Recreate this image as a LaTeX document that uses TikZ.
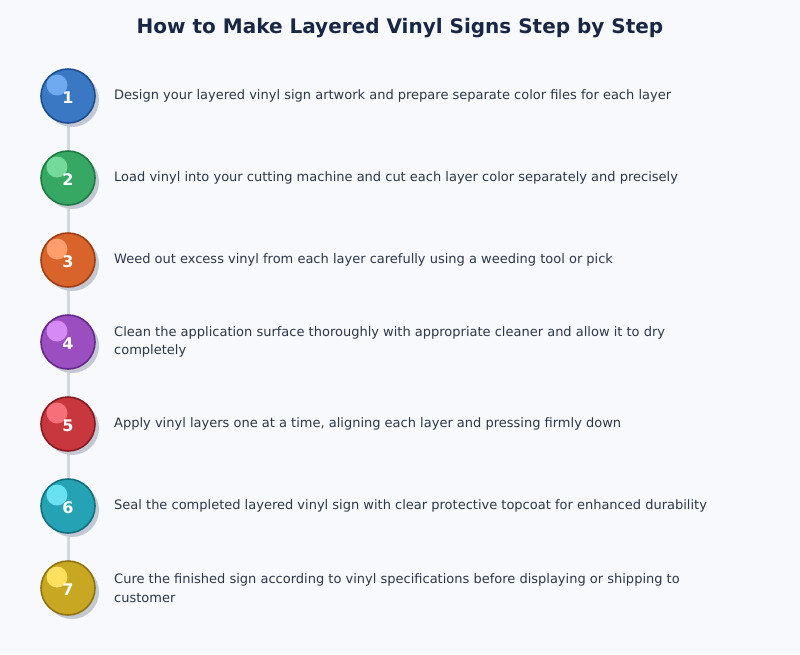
\documentclass[tikz,border=0pt]{standalone}
\usepackage{fontspec}
\setmainfont{DejaVu Sans}
\usetikzlibrary{calc}
\definecolor{bg}{HTML}{F7F9FC}
\definecolor{titlec}{HTML}{1A2744}
\definecolor{textc}{HTML}{2D3748}
\definecolor{linec}{HTML}{D2D8E2}
\definecolor{shadowc}{HTML}{C3C8D2}
\definecolor{f1}{HTML}{3A78C4}\definecolor{b1}{HTML}{1C4E92}\definecolor{h1}{HTML}{6FAAF0}
\definecolor{f2}{HTML}{36A864}\definecolor{b2}{HTML}{1D7A40}\definecolor{h2}{HTML}{74DA9C}
\definecolor{f3}{HTML}{D8642C}\definecolor{b3}{HTML}{9E3E14}\definecolor{h3}{HTML}{FF9E6A}
\definecolor{f4}{HTML}{9A4EC0}\definecolor{b4}{HTML}{68288E}\definecolor{h4}{HTML}{D58AF6}
\definecolor{f5}{HTML}{C8363E}\definecolor{b5}{HTML}{881A22}\definecolor{h5}{HTML}{F76F78}
\definecolor{f6}{HTML}{25A3B5}\definecolor{b6}{HTML}{11707E}\definecolor{h6}{HTML}{68E2F0}
\definecolor{f7}{HTML}{C8A722}\definecolor{b7}{HTML}{8E740E}\definecolor{h7}{HTML}{FFE05E}
\tikzset{
  stepcircle/.style={circle, minimum size=54pt, inner sep=0pt, line width=1.6pt},
  stepnum/.style={text=white, font=\fontsize{16}{16}\selectfont\bfseries},
  steptext/.style={anchor=west, text=textc, font=\fontsize{13}{18.5}\selectfont, align=left, inner sep=0pt},
  linkline/.style={draw=linec, line width=3pt}
}
\begin{document}
\begin{tikzpicture}[x=1pt,y=-1pt]
\fill[bg] (0,0) rectangle (800,654);
\useasboundingbox (0,0) rectangle (800,654);
\node[text=titlec, font=\fontsize{20}{22}\selectfont\bfseries] (title) at (400,28) {How to Make Layered Vinyl Signs Step by Step};
\coordinate (c1) at (68,96);
\coordinate (c2) at (68,178);
\coordinate (c3) at (68,260);
\coordinate (c4) at (68,342);
\coordinate (c5) at (68,424);
\coordinate (c6) at (68,506);
\coordinate (c7) at (68,588);
\foreach \i/\j in {1/2,2/3,3/4,4/5,5/6,6/7} {
  \draw[linkline] (c\i) -- (c\j);
}
\foreach \i/\txt in {
1/{Design your layered vinyl sign artwork and prepare separate color files for each layer},
2/{Load vinyl into your cutting machine and cut each layer color separately and precisely},
3/{Weed out excess vinyl from each layer carefully using a weeding tool or pick},
4/{Clean the application surface thoroughly with appropriate cleaner and allow it to dry\\completely},
5/{Apply vinyl layers one at a time, aligning each layer and pressing firmly down},
6/{Seal the completed layered vinyl sign with clear protective topcoat for enhanced durability},
7/{Cure the finished sign according to vinyl specifications before displaying or shipping to\\customer}} {
  \fill[shadowc] ($(c\i)+(4,4)$) circle [radius=27];
  \node[stepcircle, fill=f\i, draw=b\i] (s\i) at (c\i) {};
  \fill[h\i] ($(c\i)+(-11,-11)$) circle [radius=10.5];
  \node[stepnum] (n\i) at ($(c\i)+(0,1.5)$) {\i};
  \node[steptext] (t\i) at ($(c\i)+(46,0)$) {\txt};
}
\end{tikzpicture}
\end{document}
